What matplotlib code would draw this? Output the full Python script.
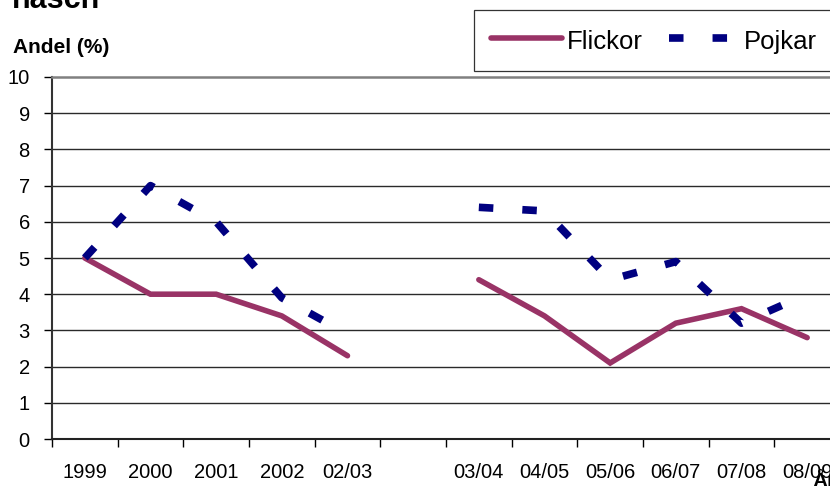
import numpy as np
import matplotlib
matplotlib.use("Agg")
import matplotlib.pyplot as plt
from matplotlib.ticker import FixedLocator

plt.rcParams['font.family'] = ['Liberation Sans', 'DejaVu Sans']

categories = ['1999', '2000', '2001', '2002', '02/03', '', '03/04', '04/05',
              '05/06', '06/07', '07/08', '08/09']
flickor = [5.0, 4.0, 4.0, 3.4, 2.3, np.nan, 4.4, 3.4, 2.1, 3.2, 3.6, 2.8]
pojkar = [5.0, 7.0, 6.0, 3.9, 2.9, np.nan, 6.4, 6.3, 4.4, 4.9, 3.2, 4.0]
yticks = list(range(0, 11))

W, H = 830, 486
fig = plt.figure(figsize=(W / 100, H / 100), dpi=100)
L, R, T, B = 52, 840, 77, 439
ax = fig.add_axes([L / W, (H - B) / H, (R - L) / W, (B - T) / H])

x = np.arange(len(categories))
fl = np.array(flickor, dtype=float)
pj = np.array(pojkar, dtype=float)

red = '#993366'
navy = '#000080'
pstyle = dict(color=navy, lw=5.5, linestyle=(0, (1.9, 3.8)), dash_capstyle='butt',
              solid_joinstyle='miter')

# split into continuous runs so the dash pattern restarts like the original
mask = ~np.isnan(pj)
runs = []
start = None
for i, m in enumerate(mask):
    if m and start is None:
        start = i
    if (not m or i == len(mask) - 1) and start is not None:
        end = i if not m else i + 1
        runs.append((start, end))
        start = None

ax.plot(x, fl, color=red, lw=4.0, solid_joinstyle='miter', solid_capstyle='round',
        label='Flickor', zorder=3)
for k, (s, e) in enumerate(runs):
    ax.plot(x[s:e], pj[s:e], label='Pojkar' if k == 0 else None, zorder=3, **pstyle)

ax.set_xlim(-0.5, len(categories) - 0.5)
ax.set_ylim(0, 10)
ax.set_yticks(yticks)
ax.set_yticklabels([str(v) for v in yticks])
ax.set_xticks(x)
ax.set_xticklabels(categories)
ax.xaxis.set_minor_locator(FixedLocator(np.arange(-0.5, len(categories) + 0.5, 1.0)))
ax.tick_params(axis='x', which='major', length=0, pad=17, labelsize=14.5)
ax.tick_params(axis='x', which='minor', length=6, width=1.0, color='black', direction='out')
ax.tick_params(axis='y', which='major', length=6, width=1.0, color='black', pad=10,
               labelsize=14.5, direction='out')

for v in yticks[1:-1]:
    ax.axhline(v, color='#2a2a2a', lw=1.0, zorder=1)
ax.spines['top'].set_color('#808080')
ax.spines['top'].set_linewidth(1.8)
ax.spines['right'].set_visible(False)
ax.spines['left'].set_color('#333333')
ax.spines['left'].set_linewidth(1.5)
ax.spines['bottom'].set_color('#222222')
ax.spines['bottom'].set_linewidth(1.5)

leg = ax.legend(loc='upper left', bbox_to_anchor=(474 / W, 1 - 10 / H),
                bbox_transform=fig.transFigure, ncol=2, fontsize=18.5,
                frameon=True, fancybox=False, borderpad=0.68, handlelength=2.74,
                handletextpad=0.2, columnspacing=1.0, handleheight=1.15,
                borderaxespad=0)
leg.get_frame().set_edgecolor('black')
leg.get_frame().set_linewidth(0.9)

fig.text(12 / W, 1 - 8 / H, 'hasch', fontsize=22, fontweight='bold', va='baseline', ha='left')
fig.text(13 / W, 1 - 53 / H, 'Andel (%)', fontsize=15, fontweight='bold', va='baseline', ha='left')
fig.text(812 / W, -1 / H, 'År', fontsize=15, fontweight='bold', va='baseline', ha='left')

fig.savefig('out.png', dpi=100)
